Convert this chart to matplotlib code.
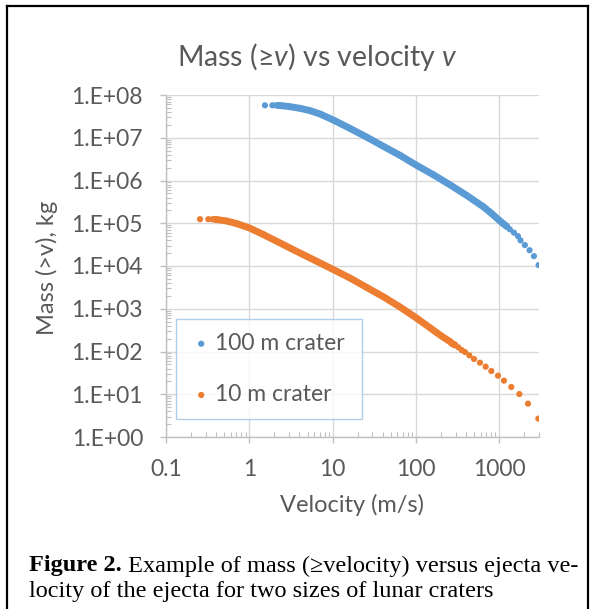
import matplotlib
matplotlib.use("Agg")
import matplotlib.pyplot as plt
from matplotlib.ticker import FixedLocator, FixedFormatter, LogLocator, NullFormatter
from matplotlib.lines import Line2D

plt.rcParams['font.family'] = ['Lato', 'DejaVu Sans']
plt.rcParams['mathtext.fontset'] = 'custom'
plt.rcParams['mathtext.rm'] = 'Lato'
plt.rcParams['mathtext.it'] = 'Lato:italic'

# ---------------- data ----------------
v100 = [1.54, 1.89, 2.09, 2.23, 2.44, 3.08, 4.06, 5.35, 7.05, 10.2, 16.1, 25.6, 40.6,
        64.3, 102, 161, 256, 405, 643, 795, 1000, 1120, 1230, 1340, 1500, 1675, 1800,
        2030, 2310, 2610, 2965]
m100 = [5.74e7, 5.74e7, 5.71e7, 5.69e7, 5.62e7, 5.33e7, 4.88e7, 4.31e7, 3.60e7, 2.60e7,
        1.66e7, 1.035e7, 6.31e6, 3.88e6, 2.26e6, 1.37e6, 7.94e5, 4.50e5, 2.44e5, 1.74e5,
        1.17e5, 9.77e4, 8.41e4, 7.21e4, 6.03e4, 5.01e4, 3.98e4, 3.09e4, 2.34e4, 1.70e4,
        1.05e4]
dense100 = (3, 23)   # index range of the continuous (densely sampled) part

v10 = [0.256, 0.322, 0.360, 0.389, 0.405, 0.535, 0.705, 1.0, 1.47, 2.13, 3.08, 4.45,
       6.43, 10.0, 16.1, 25.6, 40.6, 64.3, 102, 148, 178, 214, 257, 275, 294, 323, 354,
       388, 438, 498, 587, 687, 804, 966, 1140, 1396, 1742, 2213, 2944]
m10 = [1.245e5, 1.245e5, 1.24e5, 1.23e5, 1.22e5, 1.13e5, 9.82e4, 7.78e4, 5.45e4, 3.80e4,
       2.63e4, 1.84e4, 1.29e4, 8.41e3, 5.25e3, 3.16e3, 1.91e3, 1.10e3, 6.03e2, 3.57e2,
       2.75e2, 2.14e2, 1.70e2, 1.51e2, 1.42e2, 1.25e2, 1.08e2, 9.73e1, 8.13e1, 6.68e1,
       5.48e1, 4.42e1, 3.50e1, 2.72e1, 2.08e1, 1.48e1, 1.01e1, 6.03, 2.69]
dense10 = (3, 25)

series_labels = ["100 m crater", "10 m crater"]
colors = ["#5B9BD5", "#ED7D31"]

x_ticks = [0.1, 1, 10, 100, 1000]
x_ticklabels = ["0.1", "1", "10", "100", "1000"]
y_ticks = [1e0, 1e1, 1e2, 1e3, 1e4, 1e5, 1e6, 1e7, 1e8]
y_ticklabels = ["1.E+00", "1.E+01", "1.E+02", "1.E+03", "1.E+04",
                "1.E+05", "1.E+06", "1.E+07", "1.E+08"]

title = r"Mass (≥$v$) vs velocity $v$"
xlabel = "Velocity (m/s)"
ylabel = "Mass (>v), kg"
cap_bold = "Figure 2."
cap_rest1 = " Example of mass (≥velocity) versus ejecta ve-"
cap_line2 = "locity of the ejecta for two sizes of lunar craters"

# ---------------- figure ----------------
W, H = 593, 609
fig = plt.figure(figsize=(W / 100, H / 100), dpi=100)
fig.patch.set_facecolor("white")

L, R, T, B = 166, 539, 95, 437
ax = fig.add_axes([L / W, 1 - B / H, (R - L) / W, (B - T) / H])
ax.set_xscale("log")
ax.set_yscale("log")
ax.set_xlim(0.1, 3000)
ax.set_ylim(1, 1e8)

grid_c = "#d9d9d9"
axis_c = "#bfbfbf"
text_c = "#595959"

ax.xaxis.set_major_locator(FixedLocator(x_ticks))
ax.xaxis.set_major_formatter(FixedFormatter(x_ticklabels))
ax.yaxis.set_major_locator(FixedLocator(y_ticks))
ax.yaxis.set_major_formatter(FixedFormatter(y_ticklabels))
ax.xaxis.set_minor_locator(LogLocator(base=10, subs=range(2, 10), numticks=20))
ax.yaxis.set_minor_locator(LogLocator(base=10, subs=range(2, 10), numticks=20))
ax.xaxis.set_minor_formatter(NullFormatter())
ax.yaxis.set_minor_formatter(NullFormatter())

ax.grid(True, which="major", color=grid_c, lw=1.0)
ax.set_axisbelow(True)
for s in ["top", "right"]:
    ax.spines[s].set_visible(False)
for s in ["left", "bottom"]:
    ax.spines[s].set_color(axis_c)
    ax.spines[s].set_linewidth(1.0)

ax.tick_params(which="major", direction="out", length=4.5, width=1, color=axis_c,
               labelcolor=text_c, labelsize=16.5)
ax.tick_params(axis="x", which="major", pad=11)
ax.tick_params(axis="y", which="major", pad=12)
ax.tick_params(which="minor", direction="in", length=3.5, width=0.8, color=axis_c)

ms = 20
lw_band = 5.0
handles = []
for v, m, d, c, lab in [(v100, m100, dense100, colors[0], series_labels[0]),
                         (v10, m10, dense10, colors[1], series_labels[1])]:
    ax.plot(v[d[0]:d[1]], m[d[0]:d[1]], "-", color=c, lw=lw_band,
            solid_capstyle="round", solid_joinstyle="round", zorder=3)
    h = ax.scatter(v, m, s=ms, color=c, edgecolors="none", zorder=4, label=lab)
    handles.append(h)

leg = ax.legend(handles=handles, loc="upper left",
                bbox_to_anchor=((176 - L) / (R - L), (B - 319) / (B - T), 0.4987, 0.0),
                mode="expand", fontsize=16.5, frameon=True, fancybox=False,
                borderpad=0.6, labelspacing=1.32, handlelength=1.0, handletextpad=0.1,
                borderaxespad=0.0, scatterpoints=1)
leg.get_frame().set_edgecolor("#9DC3E6")
leg.get_frame().set_linewidth(1.0)
for t in leg.get_texts():
    t.set_color(text_c)

fig.text(318 / W, 1 - 57 / H, title, ha="center", va="center", fontsize=20.5, color=text_c)
fig.text(352 / W, 1 - 505 / H, xlabel, ha="center", va="center", fontsize=17, color=text_c)
fig.text(47 / W, 1 - 268 / H, ylabel, ha="center", va="center", rotation=90,
         fontsize=17, color=text_c)

# caption
serif = ["Liberation Serif", "DejaVu Serif"]
cap_fs = 17.5
t1 = fig.text(29 / W, 1 - 566 / H, cap_bold, ha="left", va="center", fontsize=cap_fs,
              fontweight="bold", family=serif, color="black")
fig.canvas.draw()
bb = t1.get_window_extent(renderer=fig.canvas.get_renderer())
fig.text(bb.x1 / W, 1 - 566 / H, cap_rest1, ha="left", va="center", fontsize=cap_fs,
         family=serif, color="black")
fig.text(29 / W, 1 - 591 / H, cap_line2, ha="left", va="center", fontsize=cap_fs,
         family=serif, color="black")

# frame (left, top, right; bottom edge falls outside the picture)
fig.add_artist(Line2D([7 / W, 7 / W], [0, 1 - 6 / H], color="black", lw=1.6))
fig.add_artist(Line2D([7 / W, 588 / W], [1 - 6 / H, 1 - 6 / H], color="black", lw=1.6))
fig.add_artist(Line2D([588 / W, 588 / W], [1 - 6 / H, 0], color="black", lw=1.6))

fig.savefig("out.png", dpi=100)
